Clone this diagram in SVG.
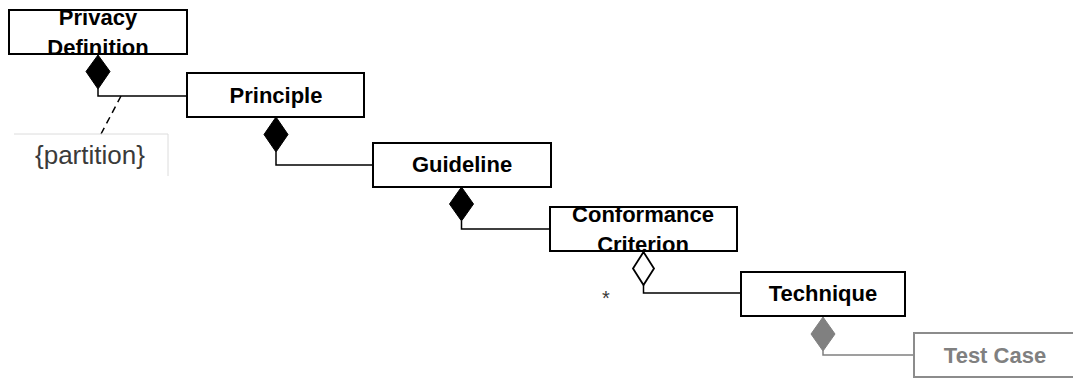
<svg xmlns="http://www.w3.org/2000/svg" width="1073" height="378" viewBox="0 0 1073 378">
  <style>
    .box { fill: #ffffff; stroke: #000000; stroke-width: 2; }
    .box-grey { fill: #ffffff; stroke: #8c8c8c; stroke-width: 2; }
    .label { font-family: "Liberation Sans", Arial, sans-serif; font-size: 22px; font-weight: bold; fill: #000000; text-anchor: middle; }
    .label-grey { font-family: "Liberation Sans", Arial, sans-serif; font-size: 22px; font-weight: bold; fill: #808080; text-anchor: middle; }
    .note { font-family: "Liberation Sans", Arial, sans-serif; font-size: 26px; fill: #3a3a3a; }
    .mult { font-family: "Liberation Sans", Arial, sans-serif; font-size: 20px; fill: #3a3a3a; text-anchor: middle; }
    .link { fill: none; stroke: #000000; stroke-width: 1.5; }
    .link-grey { fill: none; stroke: #808080; stroke-width: 1.5; }
    .dash { fill: none; stroke: #000000; stroke-width: 1.5; stroke-dasharray: 7 5; }
    .frame { fill: none; stroke: #dcdcdc; stroke-width: 1; }
    .comp { fill: #000000; stroke: #000000; stroke-width: 1; }
    .comp-grey { fill: #808080; stroke: #808080; stroke-width: 1; }
    .aggr { fill: #ffffff; stroke: #000000; stroke-width: 1.8; }
  </style>

  <!-- connectors: composition / aggregation lines with their diamonds -->
  <g id="connectors">
    <!-- Privacy Definition -> Principle -->
    <polyline class="link" points="98,89 98,96 187,96"/>
    <polygon class="comp" points="98,55 110,71.5 98,89 86,71.5"/>
    <!-- Principle -> Guideline -->
    <polyline class="link" points="276,152 276,165 373,165"/>
    <polygon class="comp" points="276,117 288,134.5 276,152 264,134.5"/>
    <!-- Guideline -> Conformance Criterion -->
    <polyline class="link" points="461.5,221 461.5,229 550,229"/>
    <polygon class="comp" points="461.5,187 473.5,204 461.5,221 449.5,204"/>
    <!-- Conformance Criterion -> Technique (aggregation) -->
    <polyline class="link" points="643.5,285 643.5,293 741,293"/>
    <polygon class="aggr" points="643.5,252 654,268.5 643.5,285 633,268.5"/>
    <!-- Technique -> Test Case -->
    <polyline class="link-grey" points="823,351 823,355 914,355"/>
    <polygon class="comp-grey" points="823,317 835,334 823,351 811,334"/>
    <!-- constraint anchor -->
    <line class="dash" x1="121" y1="96" x2="101" y2="134"/>
  </g>

  <!-- constraint note -->
  <g id="partition">
    <polyline class="frame" points="14,134 168,134 168,176"/>
    <text class="note" x="35" y="164">{partition}</text>
  </g>

  <g id="multiplicity">
    <text class="mult" x="606" y="305">*</text>
  </g>

  <g id="privacy-definition">
    <rect class="box" x="9" y="10" width="178" height="44"/>
    <text class="label" x="98" y="25">Privacy</text>
    <text class="label" x="98" y="55">Definition</text>
  </g>

  <g id="principle">
    <rect class="box" x="187" y="73" width="177" height="44"/>
    <text class="label" x="276" y="103">Principle</text>
  </g>

  <g id="guideline">
    <rect class="box" x="373" y="143" width="178" height="44"/>
    <text class="label" x="462" y="172">Guideline</text>
  </g>

  <g id="conformance-criterion">
    <rect class="box" x="550" y="207" width="187" height="44"/>
    <text class="label" x="643" y="222">Conformance</text>
    <text class="label" x="643" y="252">Criterion</text>
  </g>

  <g id="technique">
    <rect class="box" x="741" y="272" width="164" height="44"/>
    <text class="label" x="823" y="301">Technique</text>
  </g>

  <g id="test-case">
    <rect class="box-grey" x="914" y="333" width="180" height="44"/>
    <text class="label-grey" x="995" y="363">Test Case</text>
  </g>
</svg>
